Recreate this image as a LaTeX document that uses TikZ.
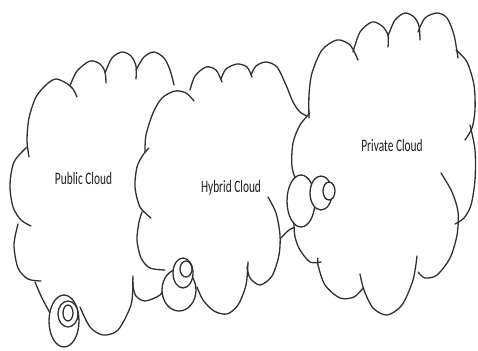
\documentclass[tikz,border=0pt]{standalone}
\usepackage{graphicx}
\usepackage{fontspec}
\newfontfamily\lblfont{Carlito}
\definecolor{ink}{HTML}{303030}
\definecolor{txt}{HTML}{1E1E1E}
\tikzset{
  cloudline/.style={draw=ink, line width=1.3pt, line cap=round, line join=round},
  bubble/.style={draw=ink, fill=white, line width=1.3pt},
  lbl/.style={font=\lblfont\fontsize{17.5}{20}\selectfont, text=txt, anchor=base, inner sep=0pt}
}
% Public cloud bumps
\def\pubLa{plot[smooth] coordinates {(50,313) (42,298) (35,282)}}
\def\pubLb{plot[smooth] coordinates {(41,281) (28,279) (18,268) (14,245) (18,224)}}
\def\pubLc{plot[smooth] coordinates {(31,226) (21,220) (13,207) (10,185) (14,162) (27,147)}}
\def\pubTa{plot[smooth] coordinates {(29,157) (27,140) (29,118) (36,97) (47,84) (56,79) (66,83) (73,89) (77,97)}}
\def\pubTb{plot[smooth] coordinates {(70,86) (77,71) (90,61) (100,64) (105,72) (106,83)}}
\def\pubTc{plot[smooth] coordinates {(105,73) (112,58) (122,52) (131,56) (136,66) (136,79)}}
\def\pubTd{plot[smooth] coordinates {(136,70) (144,57) (154,52) (164,58) (170,70) (174,85)}}
\def\pubV{plot[smooth] coordinates {(168,283) (160,295) (145,301) (136,296) (133,286) (133,276)}}
\def\pubB{plot[smooth] coordinates {(133,282) (131,305) (118,330) (103,335) (90,327) (80,307)}}
% Hybrid cloud bumps
\def\hybLa{plot[smooth] coordinates {(165,270) (150,268) (141,258) (137,240) (139,222) (142,212)}}
\def\hybLb{plot[smooth] coordinates {(151,218) (140,207) (135,187) (137,167) (143,155) (149,148)}}
\def\hybTa{plot[smooth] coordinates {(145,152) (146,135) (153,113) (162,98) (175,91) (186,93) (194,101)}}
\def\hybTb{plot[smooth] coordinates {(190,90) (195,76) (206,67) (216,70) (222,82)}}
\def\hybTc{plot[smooth] coordinates {(221,79) (226,69) (237,64) (247,67) (252,77)}}
\def\hybTd{plot[smooth] coordinates {(251,75) (256,66) (266,62) (277,67) (286,85) (293,102) (300,112) (309,117)}}
\def\hybRb{plot[smooth] coordinates {(298,226) (289,230) (281,238)}}
\def\hybRa{plot[smooth] coordinates {(268,197) (276,213) (280,235) (279,255) (272,276) (260,285) (250,278) (247,267)}}
\def\hybB{plot[smooth] coordinates {(248,262) (246,285) (238,305) (227,314) (214,311) (203,300) (197,287)}}
% Private cloud bumps
\def\priLa{plot[smooth] coordinates {(298,185) (292,167) (293,143) (300,125) (310,113)}}
\def\priTa{plot[smooth] coordinates {(309,118) (309,95) (312,73) (322,50) (337,40) (350,45) (358,60)}}
\def\priTb{plot[smooth] coordinates {(353,52) (360,32) (372,22) (382,26) (388,35) (388,47)}}
\def\priTc{plot[smooth] coordinates {(388,36) (395,20) (405,13) (414,17) (419,26) (420,40)}}
\def\priTd{plot[smooth] coordinates {(418,32) (425,18) (437,13) (447,18) (454,35) (458,58)}}
\def\priRa{plot[smooth] coordinates {(456,50) (467,62) (474,85) (475,110) (472,128) (465,140)}}
\def\priRb{plot[smooth] coordinates {(470,125) (475,150) (475,180) (471,205) (464,218) (455,224)}}
\def\priRc{plot[smooth] coordinates {(441,173) (452,192) (458,212) (457,235) (450,258) (437,275) (425,278) (418,272)}}
\def\priBa{plot[smooth] coordinates {(417,256) (413,280) (402,305) (387,315) (373,308) (364,290) (360,274)}}
\def\priBb{plot[smooth] coordinates {(363,288) (354,297) (340,298) (325,285) (318,265) (318,258)}}
\def\priBc{plot[smooth] coordinates {(321,262) (310,262) (300,250) (295,237) (294,224)}}
\edef\pubFill{\pubLa -- \pubLb -- \pubLc -- \pubTa -- \pubTb -- \pubTc -- \pubTd
  -- (185,120) -- (192,180) -- (190,240) -- (172,280) -- \pubV -- \pubB -- (65,318) -- cycle}
\edef\hybFill{\hybLa -- \hybLb -- \hybTa -- \hybTb -- \hybTc -- \hybTd
  -- (330,140) -- (330,200) -- (305,226) -- \hybRb -- \hybRa -- \hybB -- (180,290) -- cycle}
\edef\priFill{\priLa -- \priTa -- \priTb -- \priTc -- \priTd -- \priRa -- \priRb -- \priRc
  -- \priBa -- \priBb -- \priBc -- (300,205) -- cycle}
\begin{document}
\begin{tikzpicture}[x=1pt, y=-1pt]
\useasboundingbox (0,0) rectangle (478,350);
% Public cloud
\fill[white] \pubFill;
\foreach \b in {\pubLa,\pubLb,\pubLc,\pubTa,\pubTb,\pubTc,\pubTd,\pubV,\pubB}{\draw[cloudline] \b;}
% Hybrid cloud
\fill[white] \hybFill;
\foreach \b in {\hybLa,\hybLb,\hybTa,\hybTb,\hybTc,\hybTd,\hybRb,\hybRa,\hybB}{\draw[cloudline] \b;}
% Private cloud
\fill[white] \priFill;
\foreach \b in {\priLa,\priTa,\priTb,\priTc,\priTd,\priRa,\priRb,\priRc,\priBa,\priBb,\priBc}{\draw[cloudline] \b;}
% Callout bubbles
\draw[bubble] (64,321) ellipse [x radius=15pt, y radius=26pt];
\draw[bubble] (68,314) ellipse [x radius=10pt, y radius=13pt];
\draw[bubble] (68,313) ellipse [x radius=5pt, y radius=8pt];
\draw[bubble] (179,290) ellipse [x radius=17pt, y radius=21pt];
\draw[bubble] (183,273) ellipse [x radius=10pt, y radius=15pt];
\draw[bubble] (186,269) ellipse [x radius=6pt, y radius=8pt];
\draw[bubble] (301,201) ellipse [x radius=14pt, y radius=26pt];
\draw[bubble] (321,193) ellipse [x radius=11pt, y radius=17pt];
\draw[bubble] (329,191) ellipse [x radius=6pt, y radius=9pt];
% Labels
\node[lbl] (pub) at (83.5,184) {\scalebox{0.65}[1]{Public Cloud}};
\node[lbl] (hyb) at (231,192) {\scalebox{0.65}[1]{Hybrid Cloud}};
\node[lbl] (pri) at (392,151) {\scalebox{0.65}[1]{Private Cloud}};
\end{tikzpicture}
\end{document}
